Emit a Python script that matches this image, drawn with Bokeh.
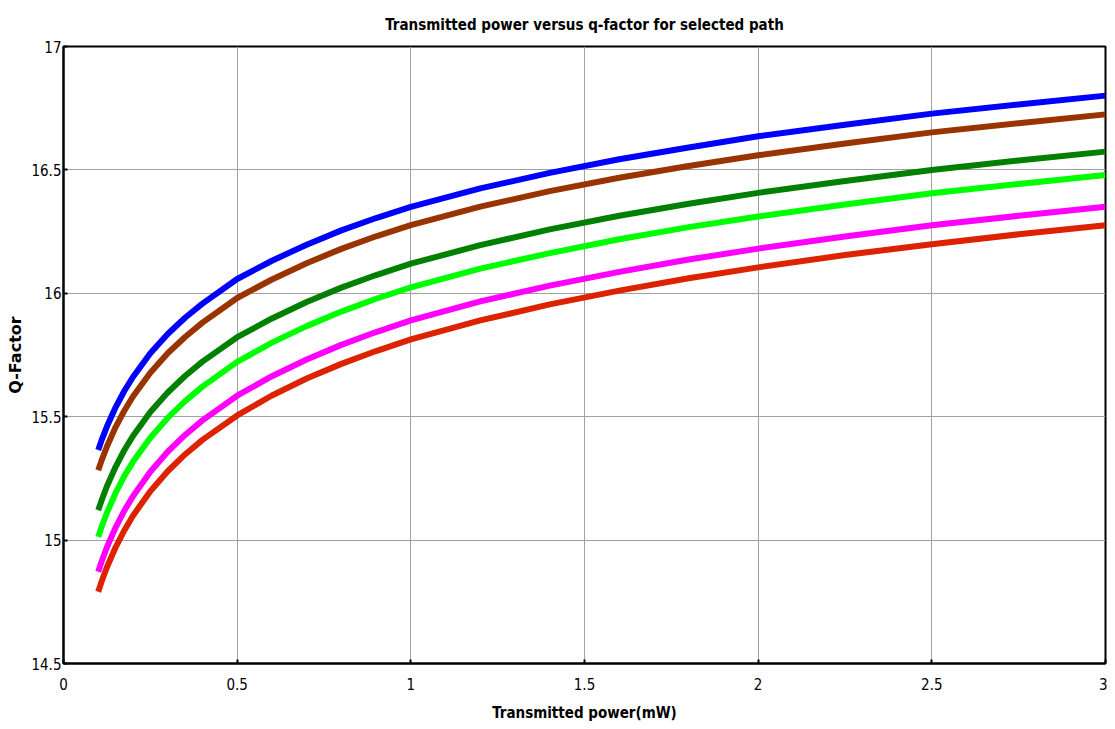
from bokeh.plotting import figure
from bokeh.models import FixedTicker, Range1d
from bokeh.embed import file_html
from bokeh.resources import INLINE

power_mw = [0.1, 0.11, 0.125, 0.15, 0.175, 0.2, 0.25, 0.3, 0.35, 0.4, 0.5, 0.6, 0.7,
            0.8, 0.9, 1.0, 1.2, 1.4, 1.6, 1.8, 2.0, 2.25, 2.5, 2.75, 3.0]

q_blue = [15.365, 15.406, 15.460, 15.538, 15.604, 15.661, 15.757, 15.835, 15.901,
          15.958, 16.058, 16.132, 16.197, 16.255, 16.305, 16.350, 16.425, 16.488,
          16.543, 16.591, 16.636, 16.683, 16.728, 16.765, 16.801]
q_brown = [15.283, 15.324, 15.379, 15.458, 15.524, 15.582, 15.678, 15.757, 15.823,
           15.881, 15.981, 16.056, 16.122, 16.180, 16.231, 16.276, 16.351, 16.414,
           16.468, 16.516, 16.559, 16.607, 16.652, 16.689, 16.725]
q_dkgreen = [15.121, 15.162, 15.218, 15.297, 15.364, 15.422, 15.519, 15.598, 15.665,
             15.723, 15.822, 15.898, 15.965, 16.023, 16.074, 16.120, 16.195, 16.259,
             16.314, 16.363, 16.407, 16.455, 16.500, 16.538, 16.574]
q_green = [15.013, 15.055, 15.111, 15.191, 15.259, 15.317, 15.415, 15.495, 15.563,
           15.622, 15.722, 15.800, 15.867, 15.926, 15.978, 16.024, 16.100, 16.163,
           16.219, 16.268, 16.311, 16.360, 16.405, 16.443, 16.479]
q_magenta = [14.872, 14.914, 14.971, 15.051, 15.119, 15.178, 15.277, 15.358, 15.426,
             15.485, 15.585, 15.664, 15.732, 15.791, 15.843, 15.890, 15.967, 16.031,
             16.087, 16.137, 16.181, 16.230, 16.276, 16.314, 16.351]
q_red = [14.791, 14.833, 14.890, 14.971, 15.039, 15.099, 15.198, 15.279, 15.347,
         15.406, 15.505, 15.586, 15.655, 15.714, 15.766, 15.813, 15.890, 15.955,
         16.011, 16.061, 16.105, 16.155, 16.199, 16.239, 16.276]

series = [q_blue, q_brown, q_dkgreen, q_green, q_magenta, q_red]
colors = ["#0000ff", "#993300", "#008000", "#00ff00", "#ff00ff", "#dd2200"]

x_ticks = [0, 0.5, 1, 1.5, 2, 2.5, 3]
x_tick_labels = ["0", "0.5", "1", "1.5", "2", "2.5", "3"]
y_ticks = [14.5, 15, 15.5, 16, 16.5, 17]
y_tick_labels = ["14.5", "15", "15.5", "16", "16.5", "17"]

NARROW = "'Liberation Sans Narrow', 'DejaVu Sans Condensed', 'Roboto Condensed', 'Liberation Sans', sans-serif"

p = figure(width=1107, height=727, output_backend="svg", toolbar_location=None,
           x_range=Range1d(0, 3), y_range=Range1d(14.5, 17),
           min_border_left=63, min_border_right=2, min_border_top=45, min_border_bottom=64,
           title="Transmitted power versus q-factor for selected path")

p.title.text_font = NARROW
p.title.text_font_size = "15px"
p.title.text_font_style = "bold"
p.title.align = "center"
p.title.text_color = "black"
p.title.standoff = 26

for ys, c in zip(series, colors):
    p.line(power_mw, ys, line_color=c, line_width=6, line_join="round")

p.xaxis.ticker = FixedTicker(ticks=x_ticks)
p.yaxis.ticker = FixedTicker(ticks=y_ticks)
p.xaxis.major_label_overrides = dict(zip(x_ticks, x_tick_labels))
p.yaxis.major_label_overrides = dict(zip(y_ticks, y_tick_labels))

for ax in (p.xaxis, p.yaxis):
    ax.major_tick_out = 0
    ax.major_tick_in = 4
    ax.minor_tick_in = 0
    ax.minor_tick_out = 0
    ax.major_tick_line_color = "black"
    ax.major_tick_line_width = 2
    ax.axis_line_color = "black"
    ax.axis_line_width = 2
    ax.major_label_text_font = NARROW
    ax.major_label_text_font_size = "15px"
    ax.major_label_text_color = "black"
    ax.axis_label_text_color = "black"
    ax.axis_label_text_font_style = "bold"

p.xaxis.axis_label = "Transmitted power(mW)"
p.xaxis.axis_label_text_font = NARROW
p.xaxis.axis_label_text_font_size = "15px"
p.xaxis.major_label_standoff = 14
p.xaxis.axis_label_standoff = 11

p.yaxis.axis_label = "Q-Factor"
p.yaxis.axis_label_text_font = "DejaVu Sans"
p.yaxis.axis_label_text_font_size = "16px"
p.yaxis.major_label_standoff = 2
p.yaxis.axis_label_standoff = 3

p.xgrid.grid_line_color = "#a0a0a0"
p.ygrid.grid_line_color = "#a0a0a0"
p.xgrid.grid_line_width = 1
p.ygrid.grid_line_width = 1

p.outline_line_color = "black"
p.outline_line_width = 2
p.background_fill_color = "white"
p.border_fill_color = "white"

open("out.html", "w").write(file_html(p, INLINE))
